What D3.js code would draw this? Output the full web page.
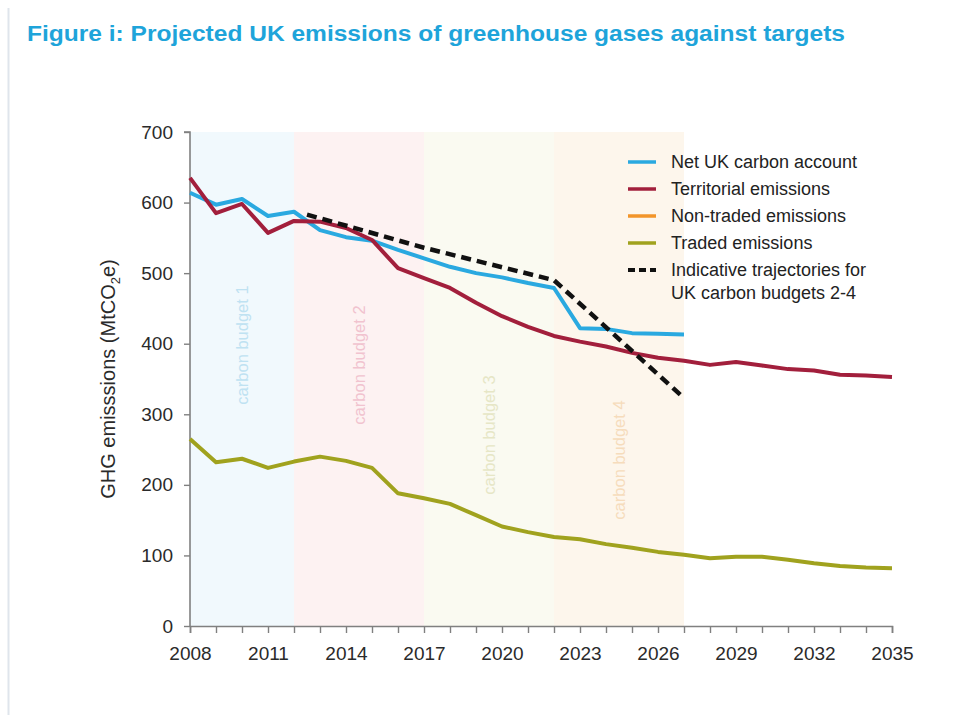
<!DOCTYPE html>
<html>
<head>
<meta charset="utf-8">
<script src="https://cdn.jsdelivr.net/npm/d3@7"></script>
<style>
  html, body { margin: 0; padding: 0; background: #fff; }
  svg { display: block; font-family: "Liberation Sans", Arial, sans-serif; }
</style>
</head>
<body>
<svg id="chart" width="962" height="715"></svg>
<script>
// ---- data ----
const years = d3.range(2008, 2036);
const netYears = d3.range(2008, 2028);
const netUK = [614, 597, 605, 581, 587, 561, 551, 546, 533, 521, 509, 500, 494, 486, 479, 422, 421, 415, 414, 413];
const territorial = [635, 585, 598, 557, 574, 573, 564, 547, 507, 493, 479, 458, 439, 424, 411, 403, 396, 387, 380, 376, 370, 374, 369, 364, 362, 356, 355, 353];
const traded = [265, 232, 237, 224, 233, 240, 234, 224, 188, 181, 173, 157, 141, 133, 126, 123, 116, 111, 105, 101, 96, 98, 98, 94, 89, 85, 83, 82];
const nonTraded = [];
const trajYears = [2012.5, 2017, 2022, 2027];
const trajectory = [583, 536, 490, 323];
const budgets = [
  { name: "carbon budget 1", start: 2008, end: 2012 },
  { name: "carbon budget 2", start: 2012, end: 2017 },
  { name: "carbon budget 3", start: 2017, end: 2022 },
  { name: "carbon budget 4", start: 2022, end: 2027 }
];
const yTicks = [0, 100, 200, 300, 400, 500, 600, 700];
const xTickLabels = [2008, 2011, 2014, 2017, 2020, 2023, 2026, 2029, 2032, 2035];
const legendLabels = ["Net UK carbon account", "Territorial emissions", "Non-traded emissions", "Traded emissions", "Indicative trajectories for|UK carbon budgets 2-4"];

// ---- styles ----
const colors = { net: "#2aa9e0", terr: "#a21f3c", nontr: "#f2952a", traded: "#a0a21e", traj: "#111" };
const bandFill = ["#f1f9fd", "#fdf2f2", "#fafaf1", "#fdf6ec"];
const bandText = ["#bfe2f2", "#f1c3cf", "#e6e6c6", "#f6dcbc"];
const bandLabelY = [345, 365, 435, 460];

const svg = d3.select("#chart");
const x = d3.scaleLinear().domain([2008, 2035]).range([190, 892]);
const y = d3.scaleLinear().domain([0, 700]).range([626, 132]);

// frame line at left
svg.append("line").attr("x1", 8.5).attr("x2", 8.5).attr("y1", 8).attr("y2", 715)
  .attr("stroke", "#dfe5ec").attr("stroke-width", 2);

// title
svg.append("text").attr("x", 27).attr("y", 41)
  .attr("font-size", 22).attr("font-weight", "bold").attr("fill", "#1ea4da")
  .attr("textLength", 818).attr("lengthAdjust", "spacingAndGlyphs")
  .text("Figure i: Projected UK emissions of greenhouse gases against targets");

// bands
svg.append("g").selectAll("rect").data(budgets).join("rect")
  .attr("x", d => x(d.start)).attr("width", d => x(d.end) - x(d.start))
  .attr("y", y(700)).attr("height", y(0) - y(700))
  .attr("fill", (d, i) => bandFill[i]);

svg.append("g").selectAll("text").data(budgets).join("text")
  .attr("transform", (d, i) => `translate(${x((d.start + d.end) / 2) + 6},${bandLabelY[i]}) rotate(-90)`)
  .attr("text-anchor", "middle").attr("font-size", 16.5)
  .attr("fill", (d, i) => bandText[i]).text(d => d.name);

// axes
const yAxis = svg.append("g").attr("transform", `translate(${x(2008)},0)`)
  .call(d3.axisLeft(y).tickValues(yTicks).tickSize(6).tickPadding(11));
const xAxis = svg.append("g").attr("transform", `translate(0,${y(0)})`)
  .call(d3.axisBottom(x).tickValues(years).tickSize(7).tickPadding(14)
    .tickFormat(d => xTickLabels.includes(d) ? String(d) : ""));
[yAxis, xAxis].forEach(g => {
  g.select(".domain").attr("stroke", "#808080").attr("stroke-width", 1.6);
  g.selectAll(".tick line").attr("stroke", "#808080").attr("stroke-width", 1.4);
  g.selectAll(".tick text").attr("font-size", 19).attr("fill", "#2a2a2a")
    .attr("font-family", "'Liberation Sans', Arial, sans-serif");
});
yAxis.select(".domain").attr("d", `M-6,${y(700)}H0V${y(0)}`);

// y label
const yl = svg.append("text")
  .attr("transform", `translate(115,${(y(0) + y(700)) / 2 + 0}) rotate(-90)`)
  .attr("text-anchor", "middle").attr("font-size", 20).attr("fill", "#2a2a2a");
yl.append("tspan").text("GHG emisssions (MtCO");
yl.append("tspan").attr("font-size", 13).attr("dy", 5).text("2");
yl.append("tspan").attr("dy", -5).text("e)");

// lines
const line = d3.line().x(d => x(d[0])).y(d => y(d[1]));
function drawLine(xs, vs, color, dash) {
  const p = svg.append("path").datum(xs.map((yr, i) => [yr, vs[i]]))
    .attr("d", line).attr("fill", "none").attr("stroke", color)
    .attr("stroke-width", 4).attr("stroke-linejoin", "round");
  if (dash) p.attr("stroke-dasharray", dash);
  return p;
}
drawLine(years, traded, colors.traded);
drawLine(netYears, netUK, colors.net);
drawLine(years, territorial, colors.terr);
drawLine(trajYears, trajectory, colors.traj, "10,6").attr("stroke-width", 4.5);

// legend
const legColors = [colors.net, colors.terr, colors.nontr, colors.traded, colors.traj];
const legY = [162, 189, 216, 243, 270];
const leg = svg.append("g");
legendLabels.forEach((lab, i) => {
  const l = leg.append("line").attr("x1", 628).attr("x2", 656)
    .attr("y1", legY[i]).attr("y2", legY[i])
    .attr("stroke", legColors[i]).attr("stroke-width", 3.5);
  if (i === 4) l.attr("stroke-dasharray", "7,4").attr("stroke-width", 4);
  const t = leg.append("text").attr("x", 671).attr("y", legY[i] + 6)
    .attr("font-size", 18).attr("fill", "#222");
  lab.split("|").forEach((s, k) => {
    t.append("tspan").attr("x", 671).attr("dy", k === 0 ? 0 : 23).text(s);
  });
});
</script>
</body>
</html>
